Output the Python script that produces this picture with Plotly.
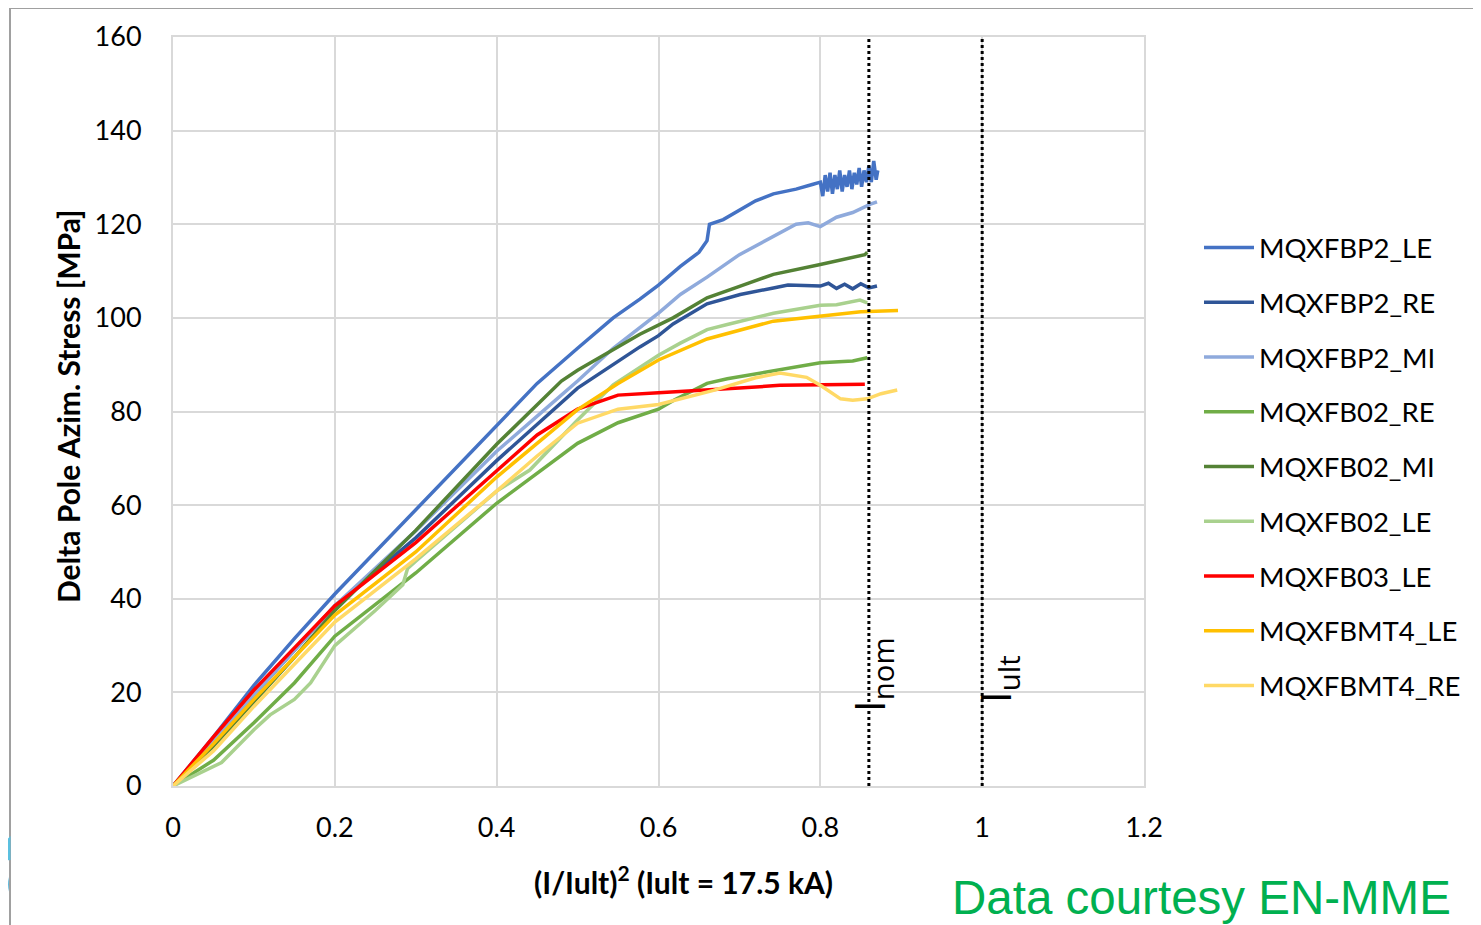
import plotly.graph_objects as go

# (I/Iult)^2 vs delta pole azimuthal stress [MPa]
bp2_le_x = [0, 0.05, 0.1, 0.15, 0.2, 0.25, 0.3, 0.35, 0.4, 0.45, 0.5, 0.544, 0.577, 0.6, 0.627, 0.65,
            0.66, 0.663, 0.68, 0.7, 0.72, 0.742, 0.77, 0.79, 0.80, 0.803, 0.806, 0.809, 0.812, 0.815,
            0.818, 0.821, 0.824, 0.827, 0.830, 0.833, 0.836, 0.839, 0.842, 0.845, 0.848, 0.851,
            0.854, 0.857, 0.860, 0.863, 0.866, 0.869, 0.871]
bp2_le_y = [0, 10.5, 21.5, 31.5, 41, 50, 59, 68, 77, 86, 93.5, 100, 104, 107, 111, 114,
            116.5, 120, 121, 123, 125, 126.5, 127.5, 128.5, 129, 126, 130.5, 127, 131, 126.5,
            130.5, 127.5, 131.5, 127, 130.5, 128, 131.5, 127.5, 131, 128.5, 132, 128, 131.5,
            129, 132.5, 129, 133.5, 129.5, 131.5]

bp2_re_x = [0, 0.05, 0.1, 0.15, 0.2, 0.3, 0.4, 0.5, 0.577, 0.6, 0.618, 0.66, 0.701, 0.742, 0.76,
            0.8, 0.81, 0.82, 0.83, 0.84, 0.85, 0.86, 0.87]
bp2_re_y = [0, 9.5, 19.5, 29, 38.5, 53, 69.5, 85, 93.8, 96.2, 98.7, 103, 105, 106.4, 107,
            106.8, 107.4, 106.3, 107.2, 106.2, 107.3, 106.4, 106.8]

bp2_mi_x = [0, 0.05, 0.1, 0.15, 0.2, 0.3, 0.4, 0.46, 0.5, 0.544, 0.577, 0.6, 0.627, 0.66, 0.7,
            0.742, 0.77, 0.785, 0.8, 0.82, 0.84, 0.862, 0.87]
bp2_mi_y = [0, 9.5, 19.5, 29, 38.5, 54.5, 71.5, 80.5, 86.5, 93.5, 97.8, 101, 105, 108.7, 113.5,
            117.5, 120, 120.3, 119.5, 121.5, 122.5, 124.3, 124.8]

b02_re_x = [0, 0.05, 0.1, 0.15, 0.2, 0.3, 0.4, 0.5, 0.55, 0.6, 0.62, 0.66, 0.685, 0.75, 0.8,
            0.84, 0.858]
b02_re_y = [0, 5.5, 13.5, 22, 32, 45.5, 60.4, 73.2, 77.6, 80.5, 82.5, 86, 87, 89, 90.4,
            90.8, 91.5]

b02_mi_x = [0, 0.05, 0.1, 0.15, 0.2, 0.3, 0.4, 0.48, 0.5, 0.577, 0.618, 0.66, 0.701, 0.742,
            0.8, 0.855, 0.858]
b02_mi_y = [0, 8.5, 18, 27.5, 37.5, 54.6, 73, 86.5, 88.8, 96.5, 100, 104.3, 106.8, 109.3,
            111.4, 113.5, 114]

b02_le_x = [0, 0.03, 0.06, 0.1, 0.12, 0.15, 0.17, 0.2, 0.25, 0.284, 0.29, 0.3, 0.4, 0.441,
            0.5, 0.544, 0.6, 0.627, 0.66, 0.685, 0.742, 0.8, 0.82, 0.849, 0.858]
b02_le_y = [0, 2.5, 5, 12, 15.2, 18.5, 22, 30, 37.5, 43, 46.5, 48, 63, 67.5,
            78.2, 85.7, 92, 94.6, 97.5, 98.6, 101, 102.7, 102.8, 103.8, 103.2]

b03_le_x = [0, 0.05, 0.1, 0.15, 0.2, 0.3, 0.4, 0.45, 0.5, 0.55, 0.6, 0.66, 0.7, 0.75, 0.8,
            0.855]
b03_le_y = [0, 10.5, 20.5, 29.5, 38.5, 52, 67.5, 75, 80.5, 83.5, 84, 84.5, 85, 85.6, 85.7,
            85.8]

bmt4_le_x = [0, 0.05, 0.1, 0.15, 0.2, 0.3, 0.4, 0.5, 0.55, 0.6, 0.66, 0.742, 0.8, 0.85, 0.896]
bmt4_le_y = [0, 9, 18.5, 27.5, 36.5, 50, 66, 80.4, 86, 91, 95.5, 99.3, 100.4, 101.3, 101.6]

bmt4_re_x = [0, 0.05, 0.1, 0.15, 0.2, 0.3, 0.4, 0.45, 0.5, 0.55, 0.6, 0.668, 0.72, 0.75,
             0.783, 0.8, 0.825, 0.84, 0.858, 0.875, 0.895]
bmt4_re_y = [0, 7.5, 17, 26, 35, 48.5, 63, 70.5, 77.5, 80.5, 81.5, 84.5, 87.2, 88.2,
             87.3, 85.6, 82.7, 82.4, 82.7, 83.8, 84.6]

series = [
    ("MQXFBP2_LE", bp2_le_x, bp2_le_y, "#4472C4"),
    ("MQXFBP2_RE", bp2_re_x, bp2_re_y, "#2F5597"),
    ("MQXFBP2_MI", bp2_mi_x, bp2_mi_y, "#8FAADC"),
    ("MQXFB02_RE", b02_re_x, b02_re_y, "#70AD47"),
    ("MQXFB02_MI", b02_mi_x, b02_mi_y, "#548235"),
    ("MQXFB02_LE", b02_le_x, b02_le_y, "#A9D18E"),
    ("MQXFB03_LE", b03_le_x, b03_le_y, "#FF0000"),
    ("MQXFBMT4_LE", bmt4_le_x, bmt4_le_y, "#FFC000"),
    ("MQXFBMT4_RE", bmt4_re_x, bmt4_re_y, "#FFD966"),
]

x_ticks = [0, 0.2, 0.4, 0.6, 0.8, 1.0, 1.2]
x_tick_text = ["0", "0.2", "0.4", "0.6", "0.8", "1", "1.2"]
y_ticks = [0, 20, 40, 60, 80, 100, 120, 140, 160]

i_nom = 0.86
i_ult = 1.0

# page body has an 8px margin, so the figure is drawn 8px in from the corner
OFF = 8
W, H = 1481 - OFF, 925 - OFF
L, R, T, B = 173 - OFF, 337, 37 - OFF, 139
pw, ph = W - L - R, H - T - B


def px(xp):
    # reference pixel -> paper x
    return (xp - 173) / pw


def py(yp):
    # reference pixel -> paper y
    return (786 - yp) / ph


fig = go.Figure()
for name, xs, ys, color in series:
    fig.add_trace(go.Scatter(x=xs, y=ys, mode="lines", name=name, legendgroup=name,
                             line=dict(color=color, width=3.5)))

for xv in [i_nom, i_ult]:
    fig.add_shape(type="line", x0=xv, x1=xv, y0=0, y1=160, xref="x", yref="y",
                  line=dict(color="black", width=3, dash="dot"))

fig.add_annotation(x=0.822, y=15.4, xref="x", yref="y", text="I<sub>nom</sub>", textangle=-90,
                   showarrow=False, xanchor="left", yanchor="bottom",
                   font=dict(family="Open Sans", size=42, color="black"))
fig.add_annotation(x=0.9775, y=17.4, xref="x", yref="y", text="I<sub>ult</sub>", textangle=-90,
                   showarrow=False, xanchor="left", yanchor="bottom",
                   font=dict(family="Open Sans", size=42, color="black"))

fig.add_annotation(x=px(1453), y=py(897), xref="paper", yref="paper", text="Data courtesy EN-MME",
                   showarrow=False, xanchor="right", yanchor="middle",
                   font=dict(family="Liberation Sans", size=47.5, color="#00B050"))

title_font = dict(family="Lato", size=30, color="black")
fig.add_annotation(x=px(683), y=py(880), xref="paper", yref="paper",
                   text="<b>(I/Iult)<sup>2</sup> (Iult = 17.5 kA)</b>",
                   showarrow=False, xanchor="center", yanchor="middle", font=title_font)
fig.add_annotation(x=px(68), y=py(407), xref="paper", yref="paper",
                   text="<b>Delta Pole Azim. Stress [MPa]</b>", textangle=-90,
                   showarrow=False, xanchor="center", yanchor="middle", font=title_font)

# slide frame lines and logo fragment
fig.add_shape(type="line", xref="paper", yref="paper", x0=px(10), x1=px(1481), y0=py(8), y1=py(8),
              line=dict(color="#A0A0A0", width=2))
fig.add_shape(type="line", xref="paper", yref="paper", x0=px(10), x1=px(10), y0=py(8), y1=py(925),
              line=dict(color="#A0A0A0", width=2))
fig.add_shape(type="path", xref="paper", yref="paper",
              path=f"M {px(8)},{py(842)} Q {px(4)},{py(846)} {px(8)},{py(860)} L {px(8)},{py(851)} Z",
              line=dict(color="#5BC0E0", width=5))
fig.add_shape(type="path", xref="paper", yref="paper",
              path=f"M {px(0)},{py(862)} Q {px(12)},{py(880)} {px(4)},{py(900)}",
              line=dict(color="#1A9ACB", width=3))

axis_font = dict(family="Lato", size=27, color="black")
fig.update_layout(
    width=W, height=H,
    margin=dict(l=L, r=R, t=T, b=B),
    paper_bgcolor="white", plot_bgcolor="white",
    font=dict(family="Lato", color="black"),
    xaxis=dict(range=[0, 1.2], tickvals=x_ticks, ticktext=x_tick_text, tickfont=axis_font,
               showgrid=True, gridcolor="#D9D9D9", gridwidth=2, zeroline=False,
               showline=True, linecolor="#D9D9D9", linewidth=2, mirror=True,
               ticks="outside", ticklen=17, tickcolor="rgba(0,0,0,0)"),
    yaxis=dict(range=[0, 160], tickvals=y_ticks, tickfont=axis_font,
               showgrid=True, gridcolor="#D9D9D9", gridwidth=2, zeroline=False,
               showline=True, linecolor="#D9D9D9", linewidth=2, mirror=True,
               ticks="outside", ticklen=24, tickcolor="rgba(0,0,0,0)"),
    legend=dict(x=px(1199), y=py(223), xanchor="left", yanchor="top",
                font=dict(family="Lato", size=27.5, color="black"),
                traceorder="grouped", tracegroupgap=16, itemwidth=50,
                bgcolor="rgba(0,0,0,0)"),
    showlegend=True,
)

fig.write_html("out.html")
